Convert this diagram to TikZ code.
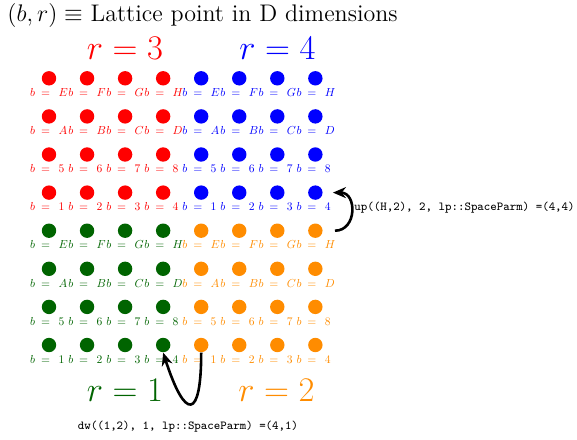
\documentclass[tikz,border=0pt]{standalone}
\usetikzlibrary{arrows.meta}
\definecolor{cred}{RGB}{255,0,0}
\definecolor{cblue}{RGB}{0,0,255}
\definecolor{cgreen}{RGB}{0,100,0}
\definecolor{corange}{RGB}{255,140,0}
\tikzset{
  dot/.style={circle,fill=#1,inner sep=0pt,minimum size=7.2pt},
  dotlabel/.style={text=#1,anchor=base west,inner sep=0pt,scale=0.58,font=\fontsize{10}{12}\selectfont},
  rlabel/.style={text=#1,anchor=base,inner sep=0pt,font=\fontsize{16.9}{20}\selectfont},
  ttlabel/.style={inner sep=0pt,font=\fontsize{6.1}{7}\selectfont\ttfamily},
  conn/.style={-{Stealth[length=6.5pt,width=5.5pt]},line width=1.3pt,black}
}
\begin{document}
\begin{tikzpicture}[x=0.5pt,y=-0.5pt]
\useasboundingbox (0,0) rectangle (577,439);
\node[anchor=base west,inner sep=0pt,font=\fontsize{12}{14}\selectfont] (title) at (7,21) {$(b,r)\equiv$ Lattice point in D dimensions};
% grid
\foreach \r/\va/\vb/\vc/\vd in {1/E/F/G/H,2/A/B/C/D,3/5/6/7/8,4/1/2/3/4,5/E/F/G/H,6/A/B/C/D,7/5/6/7/8,8/1/2/3/4}{
  \foreach \col/\lab in {1/\va,2/\vb,3/\vc,4/\vd,5/\va,6/\vb,7/\vc,8/\vd}{
    \pgfmathsetmacro{\xx}{49+38.05*(\col-1)}
    \pgfmathsetmacro{\yy}{78.3+38.1*(\r-1)}
    \pgfmathtruncatemacro{\istop}{\r<5 ? 1 : 0}
    \pgfmathtruncatemacro{\isleft}{\col<5 ? 1 : 0}
    \ifnum\istop=1
      \ifnum\isleft=1 \def\cc{cred}\else\def\cc{cblue}\fi
    \else
      \ifnum\isleft=1 \def\cc{cgreen}\else\def\cc{corange}\fi
    \fi
    \node[dot=\cc] (d-\r-\col) at (\xx,\yy) {};
    \node[dotlabel=\cc] (l-\r-\col) at (\xx-19,\yy+18.2) {$b\mkern4.2mu=\mkern8mu\lab$};
  }
}
\node[rlabel=cred] (r3) at (125,59) {$r=3$};
\node[rlabel=cblue] (r4) at (277.5,59) {$r=4$};
\node[rlabel=cgreen] (r1) at (125,401) {$r=1$};
\node[rlabel=corange] (r2) at (276.5,401) {$r=2$};
% up arrow
\draw[conn,shorten <=6pt,shorten >=5pt] (d-5-8.east) to[out=0,in=0,looseness=2.3] (d-4-8.east);
\node[ttlabel,anchor=west] (uplab) at (354,208) {up((H,2), 2, lp::SpaceParm) =(4,4)};
% down arrow
\draw[conn] (d-8-5.south) .. controls +(0,68) and +(22,68) .. (d-8-4.south);
\node[ttlabel] (dwlab) at (188,427) {dw((1,2), 1, lp::SpaceParm) =(4,1)};
\end{tikzpicture}
\end{document}
